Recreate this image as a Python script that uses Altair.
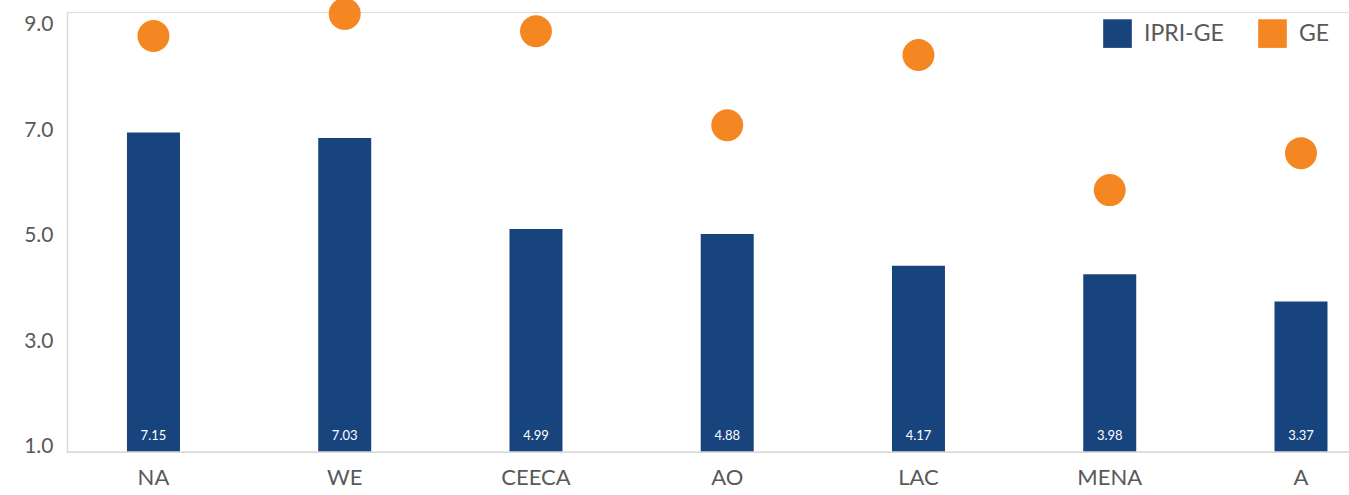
import altair as alt
import pandas as pd

regions = ["NA", "WE", "CEECA", "AO", "LAC", "MENA", "A"]
ipri_ge = [7.15, 7.03, 4.99, 4.88, 4.17, 3.98, 3.37]
ge = [8.79, 9.21, 8.88, 7.10, 8.43, 5.87, 6.57]
y_ticks = [1, 3, 5, 7, 9]

BLUE = "#18447E"
ORANGE = "#F58723"
GRAY = "#595959"
LINE = "#D9D9D9"
FONT = "Lato"

df = pd.DataFrame({
    "region": regions,
    "ipri": ipri_ge,
    "ge": ge,
    "s_ipri": ["IPRI-GE"] * len(regions),
    "s_ge": ["GE"] * len(regions),
})

color_scale = alt.Scale(domain=["IPRI-GE", "GE"], range=[BLUE, ORANGE])
x_scale = alt.Scale(paddingInner=0.7229, paddingOuter=0.213, align=0.736)
bar_y_scale = alt.Scale(domain=[0, 9.848], nice=False, zero=True)

x_enc = alt.X(
    "region:N",
    sort=regions,
    title=None,
    scale=x_scale,
    axis=alt.Axis(
        orient="bottom", labelAngle=0, labelFontSize=22, labelColor=GRAY, labelFont=FONT,
        ticks=False, domain=False, labelPadding=15,
    ),
)

base = alt.Chart(df)

bars = base.mark_bar(color=BLUE).encode(
    x=x_enc,
    y=alt.Y("ipri:Q", scale=bar_y_scale, axis=None),
    color=alt.Color(
        "s_ipri:N", scale=color_scale, title=None,
        legend=alt.Legend(
            orient="none", legendX=1036, legendY=7, direction="horizontal",
            symbolType="square", symbolSize=820, labelFontSize=23, labelColor=GRAY,
            labelFont=FONT, labelOffset=12, columnPadding=34, padding=0,
            symbolStrokeWidth=0,
        ),
    ),
)

baseline = alt.Chart(pd.DataFrame({"zero": [0]})).mark_rule(color=LINE, strokeWidth=1.5).encode(
    y=alt.Y("zero:Q", scale=bar_y_scale, axis=None),
)

labels = base.mark_text(color="white", fontSize=13, font=FONT, baseline="middle", dy=-16).encode(
    x=x_enc,
    y=alt.Y("zero:Q", scale=bar_y_scale, axis=None),
    text=alt.Text("ipri:Q", format=".2f"),
).transform_calculate(zero="0")

dots = base.mark_circle(size=1020, opacity=1).encode(
    x=x_enc,
    y=alt.Y(
        "ge:Q",
        scale=alt.Scale(domain=[0.905, 9.246], nice=False, zero=False),
        axis=alt.Axis(
            orient="left", values=y_ticks, format=".1f", grid=False, ticks=False,
            domain=True, domainColor=LINE, domainWidth=1.5, labelFontSize=21,
            labelColor=GRAY, labelFont=FONT, labelPadding=14, title=None,
        ),
    ),
    color=alt.Color("s_ge:N", scale=color_scale, title=None),
)

chart = (
    alt.layer(bars, baseline, labels, dots)
    .resolve_scale(y="independent")
    .properties(
        width=1282,
        height=440,
        autosize=alt.AutoSizeParams(type="none"),
        padding={"left": 67, "top": 12, "right": 0, "bottom": 43},
    )
    .configure_view(stroke="white", strokeWidth=0, strokeOpacity=0)
    .configure_axis(domain=False, grid=False, ticks=False)
    .configure(background="white")
)

chart.save("out.html", embed_options={"renderer": "svg", "actions": False})
